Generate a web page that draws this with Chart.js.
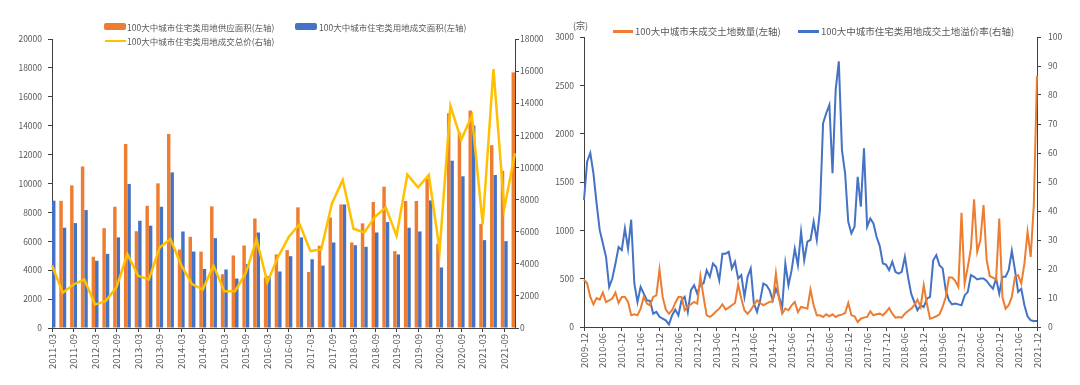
<!DOCTYPE html>
<html>
<head>
<meta charset="utf-8">
<script src="https://cdn.jsdelivr.net/npm/chart.js@4.4.0/dist/chart.umd.min.js"></script>
<style>
  body { margin: 0; background: #fff; font-family: "Noto Sans CJK SC", "Noto Sans", sans-serif; }
  #page { position: relative; width: 1080px; height: 385px; overflow: hidden; }
  .box { position: absolute; top: 0; height: 385px; }
  .lg { position: absolute; color: #595959; white-space: nowrap; line-height: 12px; }
  .sw { position: absolute; }
</style>
</head>
<body>
<div id="page">
  <div class="box" style="left:0;width:545px"><canvas id="left"></canvas></div>
  <div class="box" style="left:545px;width:535px"><canvas id="right"></canvas></div>

  <div class="sw" style="left:104px;top:23px;width:22px;height:7px;background:#ED7D31;border-radius:2px"></div>
  <div class="lg" style="left:127px;top:20.5px;font-size:8.5px">100大中城市住宅类用地供应面积(左轴)</div>
  <div class="sw" style="left:295px;top:23px;width:22px;height:7px;background:#4472C4;border-radius:2px"></div>
  <div class="lg" style="left:319px;top:20.5px;font-size:8.5px">100大中城市住宅类用地成交面积(左轴)</div>
  <div class="sw" style="left:105px;top:39.5px;width:21px;height:2.5px;background:#FFC000"></div>
  <div class="lg" style="left:127px;top:34.5px;font-size:8.5px">100大中城市住宅类用地成交总价(右轴)</div>

  <div class="lg" style="left:573px;top:20px;font-size:9px">(宗)</div>
  <div class="sw" style="left:613px;top:30px;width:20px;height:2.5px;background:#ED7D31"></div>
  <div class="lg" style="left:635px;top:25px;font-size:9.5px">100大中城市未成交土地数量(左轴)</div>
  <div class="sw" style="left:798px;top:30px;width:21px;height:2.5px;background:#4472C4"></div>
  <div class="lg" style="left:821px;top:25px;font-size:9.5px">100大中城市住宅类用地成交土地溢价率(右轴)</div>
</div>

<script>
// quarterly data, 2011-03 .. 2021-12
const quarters = [];
for (let y = 2011; y <= 2021; y++) {
  ['03', '06', '09', '12'].forEach(m => quarters.push(y + '-' + m));
}
const supplyArea = [7400, 8800, 9870, 11170, 4930, 6910, 8390, 12740, 6700, 8460, 10010, 13430,
  5430, 6310, 5290, 8420, 3720, 5020, 5710, 7580, 3500, 5090, 5390, 8350,
  3880, 5690, 7650, 8550, 5920, 7240, 8720, 9780, 5320, 8790, 8790, 10340,
  5830, 14870, 13530, 15050, 7210, 12650, 10890, 17690];
const dealArea = [8810, 6940, 7260, 8160, 4650, 5130, 6270, 9970, 7420, 7080, 8390, 10770,
  6680, 5290, 4090, 6220, 4050, 3420, 4420, 6610, 3600, 3910, 4970, 6270,
  4760, 4320, 5920, 8550, 5730, 5620, 6610, 7330, 5090, 6940, 6680, 8830,
  4190, 11580, 10500, 14010, 6080, 10590, 6010, 9730];
const dealPrice = [3910, 2190, 2710, 3020, 1460, 1690, 2560, 4600, 3250, 3020, 5020, 5540,
  3910, 2730, 2390, 3890, 2290, 2290, 3430, 5520, 2850, 4430, 5680, 6470,
  4790, 4890, 7760, 9220, 6180, 5950, 6930, 7510, 5740, 9550, 8760, 9530,
  4850, 13840, 11720, 13210, 6450, 16130, 7450, 10880];

// monthly data, 2009-12 .. 2021-12
const months = ['2009-12'];
for (let y = 2010; y <= 2021; y++) {
  for (let m = 1; m <= 12; m++) months.push(y + '-' + String(m).padStart(2, '0'));
}
const unsoldCount = [
  490, 450, 311, 235, 300, 283, 356, 259, 276, 294,
  356, 249, 311, 311, 259, 121, 131, 121, 190, 311,
  242, 225, 311, 328, 594, 311, 180, 138, 173, 249,
  311, 311, 173, 214, 235, 259, 242, 525, 311, 121,
  104, 128, 162, 190, 235, 180, 200, 225, 249, 439,
  294, 173, 138, 173, 231, 276, 249, 225, 242, 259,
  266, 553, 294, 138, 190, 173, 225, 259, 155, 207,
  200, 190, 387, 225, 121, 121, 104, 131, 111, 131,
  104, 121, 128, 145, 249, 121, 111, 52, 86, 97,
  104, 162, 121, 131, 138, 121, 155, 197, 138, 97,
  104, 97, 138, 166, 190, 225, 283, 207, 432, 242,
  86, 97, 111, 131, 207, 311, 511, 511, 477, 415,
  1182, 449, 622, 812, 1320, 777, 898, 1261, 691, 525,
  511, 491, 1123, 311, 190, 225, 311, 518, 536, 449,
  656, 985, 726, 1278, 2600];
const premiumRate = [
  43.8, 57, 60, 53, 42.6, 33.4, 28.8, 24.2, 13.8, 16.7,
  21.9, 27.6, 26.5, 34, 27, 37, 15, 8.6, 13.8, 11.5,
  9.2, 9, 4.6, 5.2, 3.5, 2.9, 2.3, 0.9, 4, 6,
  4, 9.2, 10.4, 5.2, 12.7, 14.4, 11.5, 14.7, 15, 19.6,
  17.3, 21.9, 20.7, 16.1, 25.3, 25.3, 25.9, 20.2, 22.5, 16.7,
  17.9, 10.4, 17.3, 20.2, 8.1, 5.2, 9.2, 15, 14.4, 12.7,
  9.2, 13.2, 10.4, 6.9, 21.9, 14.4, 19.6, 27, 21.3, 32.8,
  23, 29.4, 30, 36.3, 30, 40.3, 70.3, 73.7, 76.6, 53,
  81.8, 91.6, 61, 53, 36.3, 32.3, 34.6, 51.8, 41.5, 61.6,
  34.6, 37.4, 35.7, 31.1, 28, 21.9, 21.5, 19.6, 22.5, 19,
  18.4, 19, 24.2, 17.3, 11.5, 8.6, 5.8, 7.5, 6.9, 9.8,
  10.4, 23, 24.8, 21.3, 20.2, 12.7, 9.2, 7.8, 8.1, 7.8,
  7.5, 10.9, 12.1, 17.9, 17.3, 16.4, 16.7, 16.7, 15.9, 14.4,
  13.2, 16.7, 11.5, 17.3, 17.3, 19.6, 26.3, 19.6, 12.1, 13.2,
  7.5, 3.7, 2.3, 2.1, 2.1];

Chart.defaults.font.family = '"Noto Sans CJK SC", "Noto Sans", sans-serif';
Chart.defaults.color = '#595959';

const axisLine = '#404040';

function xAxis(every, h) {
  return {
    type: 'category',
    offset: false,
    grid: { offset: false, drawOnChartArea: false, drawTicks: true, tickLength: 4, color: axisLine },
    border: { color: axisLine },
    ticks: {
      autoSkip: false, maxRotation: 90, minRotation: 90, padding: 2,
      font: { size: 9.5 }, color: '#595959',
      callback: function (v, i) { return i % every === 0 ? this.getLabelForValue(v) : null; }
    },
    afterFit: s => { s.height = h; }
  };
}

function yAxis(pos, max, step, w, pad) {
  return {
    position: pos, min: 0, max: max,
    grid: { drawOnChartArea: false, drawTicks: true, tickLength: 4, color: axisLine },
    border: { color: axisLine },
    ticks: { stepSize: step, padding: pad, font: { size: 8.5 }, color: '#595959', callback: v => String(v) },
    afterFit: s => { s.width = w; }
  };
}

new Chart(document.getElementById('left'), {
  type: 'bar',
  data: {
    labels: quarters,
    datasets: [
      { type: 'bar', label: '100大中城市住宅类用地供应面积(左轴)', data: supplyArea, backgroundColor: '#ED7D31',
        yAxisID: 'y', order: 2, categoryPercentage: 0.64, barPercentage: 1 },
      { type: 'bar', label: '100大中城市住宅类用地成交面积(左轴)', data: dealArea, backgroundColor: '#4472C4',
        yAxisID: 'y', order: 2, categoryPercentage: 0.64, barPercentage: 1 },
      { type: 'line', label: '100大中城市住宅类用地成交总价(右轴)', data: dealPrice, borderColor: '#FFC000',
        borderWidth: 2.5, pointRadius: 0, tension: 0, yAxisID: 'y1', order: 1 }
    ]
  },
  options: {
    responsive: true, maintainAspectRatio: false, animation: false, devicePixelRatio: 1,
    layout: { padding: { top: 39, left: 0, right: 0, bottom: 0 } },
    plugins: { legend: { display: false }, tooltip: { enabled: false } },
    scales: {
      x: xAxis(2, 57),
      y: yAxis('left', 20000, 2000, 52, 6),
      y1: yAxis('right', 18000, 2000, 30, 1)
    }
  }
});

new Chart(document.getElementById('right'), {
  type: 'line',
  data: {
    labels: months,
    datasets: [
      { label: '100大中城市未成交土地数量(左轴)', data: unsoldCount, borderColor: '#ED7D31',
        borderWidth: 2, pointRadius: 0, tension: 0, yAxisID: 'y' },
      { label: '100大中城市住宅类用地成交土地溢价率(右轴)', data: premiumRate, borderColor: '#4472C4',
        borderWidth: 2, pointRadius: 0, tension: 0, yAxisID: 'y1' }
    ]
  },
  options: {
    responsive: true, maintainAspectRatio: false, animation: false, devicePixelRatio: 1,
    layout: { padding: { top: 37, left: 0, right: 0, bottom: 0 } },
    plugins: { legend: { display: false }, tooltip: { enabled: false } },
    scales: {
      x: xAxis(6, 58),
      y: yAxis('left', 3000, 500, 39, 6),
      y1: yAxis('right', 100, 10, 43, 7)
    }
  }
});
</script>
</body>
</html>
